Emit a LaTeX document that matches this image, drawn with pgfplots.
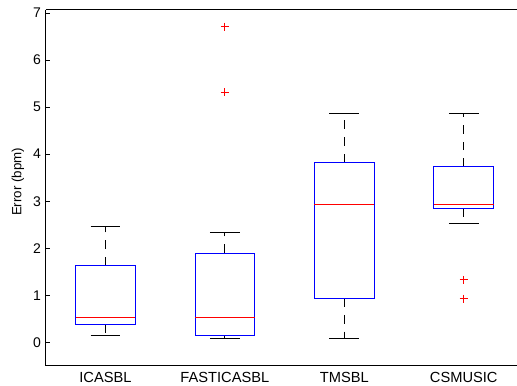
\documentclass[border=0pt]{standalone}
\usepackage{pgfplots}
\pgfplotsset{compat=1.18}
\usepgfplotslibrary{statistics}
\usepackage{fontspec}
\setmainfont{Liberation Sans}
\begin{document}
\begin{tikzpicture}
\begin{axis}[
  name=ax,
  scale only axis,
  width=353.5pt, height=267pt,
  xmin=0.5, xmax=4.446,
  ymin=-0.5, ymax=7.064,
  axis x line=box, axis y line=left,
  axis line style={-, line width=0.75pt, black},
  xtick={1,2,3,4},
  xticklabels={ICASBL,FASTICASBL,TMSBL,CSMUSIC},
  ytick={0,1,2,3,4,5,6,7},
  tick align=inside,
  major tick length=3pt,
  x tick style={draw=none},
  y tick style={black, line width=0.5pt},
  yticklabel style={font=\fontsize{10.5}{12}\selectfont},
  xticklabel style={font=\fontsize{11}{12}\selectfont, yshift=-1pt},
  label style={font=\fontsize{10.5}{12}\selectfont},
  /pgf/number format/assume math mode=true,
  ylabel={Error (bpm)},
  every axis y label/.style={at={(axis description cs:-0.059,0.517)},rotate=90,anchor=center},
  boxplot/draw direction=y,
  boxplot/box extend=0.5,
  boxplot/whisker extend=0.25,
  boxplot/every box/.style={draw=blue, line width=0.6pt},
  boxplot/every median/.style={draw=red, line width=0.6pt},
  boxplot/draw/lower whisker/.code={%
    \draw[black, line width=0.6pt, dash pattern=on 6.5pt off 6pt]
      (boxplot box cs:\pgfplotsboxplotvalue{lower quartile},0.5) --
      (boxplot box cs:\pgfplotsboxplotvalue{lower whisker},0.5);
    \draw[black, line width=0.6pt]
      (boxplot whisker cs:\pgfplotsboxplotvalue{lower whisker},0) --
      (boxplot whisker cs:\pgfplotsboxplotvalue{lower whisker},1);
  },
  boxplot/draw/upper whisker/.code={%
    \draw[black, line width=0.6pt, dash pattern=on 6.5pt off 6pt]
      (boxplot box cs:\pgfplotsboxplotvalue{upper quartile},0.5) --
      (boxplot box cs:\pgfplotsboxplotvalue{upper whisker},0.5);
    \draw[black, line width=0.6pt]
      (boxplot whisker cs:\pgfplotsboxplotvalue{upper whisker},0) --
      (boxplot whisker cs:\pgfplotsboxplotvalue{upper whisker},1);
  },
]
\addplot[draw=blue, mark=+, mark size=3pt, mark options={draw=red, solid, line width=0.6pt},
  boxplot prepared={draw position=1, lower whisker=0.14, lower quartile=0.376,
    median=0.54, upper quartile=1.63, upper whisker=2.46}] coordinates {};
\addplot[draw=blue, mark=+, mark size=3pt, mark options={draw=red, solid, line width=0.6pt},
  boxplot prepared={draw position=2, lower whisker=0.08, lower quartile=0.14,
    median=0.54, upper quartile=1.90, upper whisker=2.34}] coordinates {(0,6.71) (0,5.32)};
\addplot[draw=blue, mark=+, mark size=3pt, mark options={draw=red, solid, line width=0.6pt},
  boxplot prepared={draw position=3, lower whisker=0.08, lower quartile=0.94,
    median=2.93, upper quartile=3.83, upper whisker=4.86}] coordinates {};
\addplot[draw=blue, mark=+, mark size=3pt, mark options={draw=red, solid, line width=0.6pt},
  boxplot prepared={draw position=4, lower whisker=2.53, lower quartile=2.84,
    median=2.93, upper quartile=3.73, upper whisker=4.86}] coordinates {(0,1.33) (0,0.93)};
\end{axis}
\pgfresetboundingbox
\path[use as bounding box] ([xshift=-34.3pt,yshift=-15pt]ax.south west) rectangle ([yshift=7.5pt]ax.north east);
\end{tikzpicture}
\end{document}
